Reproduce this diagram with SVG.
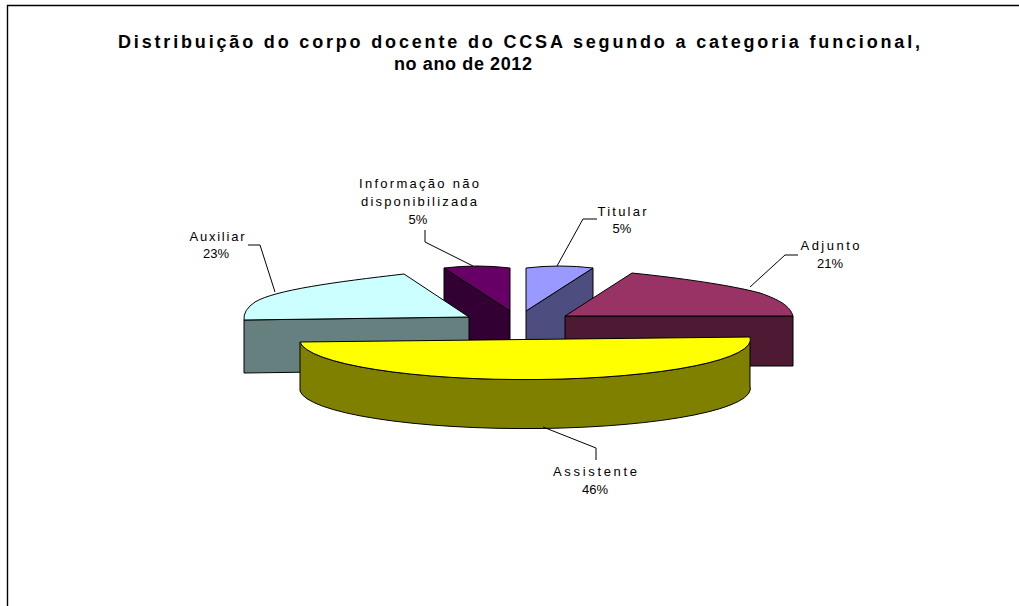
<svg xmlns="http://www.w3.org/2000/svg" width="1019" height="606" viewBox="0 0 1019 606">
<style>
.s{stroke:#000;stroke-width:1;stroke-linejoin:round}
.t{font-family:"Liberation Sans",Arial,sans-serif;font-size:13px;fill:#000;text-anchor:middle}
.h{font-family:"Liberation Sans",Arial,sans-serif;font-size:18px;font-weight:bold;fill:#000;text-anchor:middle}
.l{fill:none;stroke:#000;stroke-width:1}
</style>
<rect width="1019" height="606" fill="#fff"/>
<path d="M7.5,606 V5.5 H1019" fill="none" stroke="#000" stroke-width="1.4"/>
<g id="title">
<text class="h" x="519" y="48" textLength="802" lengthAdjust="spacing">Distribuição do corpo docente do CCSA segundo a categoria funcional,</text>
<text class="h" x="463" y="70" textLength="138" lengthAdjust="spacing">no ano de 2012</text>
</g>
<g id="slice-informacao">
<path class="s" d="M444,268 L510,311 L510,340 L444,340 Z" fill="#330033"/>
<path class="s" d="M444,268 Q477,264 510,268 L510,311 Z" fill="#660066"/>
</g>
<g id="slice-titular">
<path class="s" d="M593,268 L526,311 L526,340 L593,340 Z" fill="#4D4D80"/>
<path class="s" d="M526,268 Q560,264 593,268 L526,311 Z" fill="#9999FF"/>
</g>
<g id="slice-auxiliar">
<path class="s" d="M244,320 L469,317 L469,370 L244,373 Z" fill="#668080"/>
<path class="s" d="M469,317 L404,274 C335,282 275,290 255,302 Q243,310 244,320 Z" fill="#CCFFFF"/>
</g>
<g id="slice-adjunto">
<path class="s" d="M565,316 L793,316 L793,366 L565,366 Z" fill="#4D1933"/>
<path class="s" d="M565,316 L632,273 C680,278 730,285 760,293 C780,300 790,306 793,316 Z" fill="#993366"/>
</g>
<g id="slice-assistente">
<path class="s" d="M300,342 A225,40 0 0 0 750,337 L750,386 A225,40 0 0 1 300,391 Z" fill="#808000"/>
<path class="s" d="M300,342 L750,337 A225,40 0 0 1 300,342 Z" fill="#FFFF00"/>
</g>
<g id="connectors">
<path class="l" d="M248,245 L260,245 L275,292"/>
<path class="l" d="M425,230 L425,242 L473,266"/>
<path class="l" d="M597,219 L583,219 L557,266"/>
<path class="l" d="M798,255 L785,255 L750,287"/>
<path class="l" d="M596,460 L596,448 L543,427"/>
</g>
<g id="label-auxiliar">
<text class="t" x="217" y="241" textLength="55" lengthAdjust="spacing">Auxiliar</text>
<text class="t" x="216" y="258">23%</text>
</g>
<g id="label-informacao">
<text class="t" x="419" y="188" textLength="120" lengthAdjust="spacing">Informação não</text>
<text class="t" x="419" y="206" textLength="116" lengthAdjust="spacing">disponibilizada</text>
<text class="t" x="418" y="224">5%</text>
</g>
<g id="label-titular">
<text class="t" x="622" y="216" textLength="49" lengthAdjust="spacing">Titular</text>
<text class="t" x="622" y="233">5%</text>
</g>
<g id="label-adjunto">
<text class="t" x="830" y="250" textLength="59" lengthAdjust="spacing">Adjunto</text>
<text class="t" x="830" y="268">21%</text>
</g>
<g id="label-assistente">
<text class="t" x="595" y="476" textLength="84" lengthAdjust="spacing">Assistente</text>
<text class="t" x="595" y="494">46%</text>
</g>
</svg>
